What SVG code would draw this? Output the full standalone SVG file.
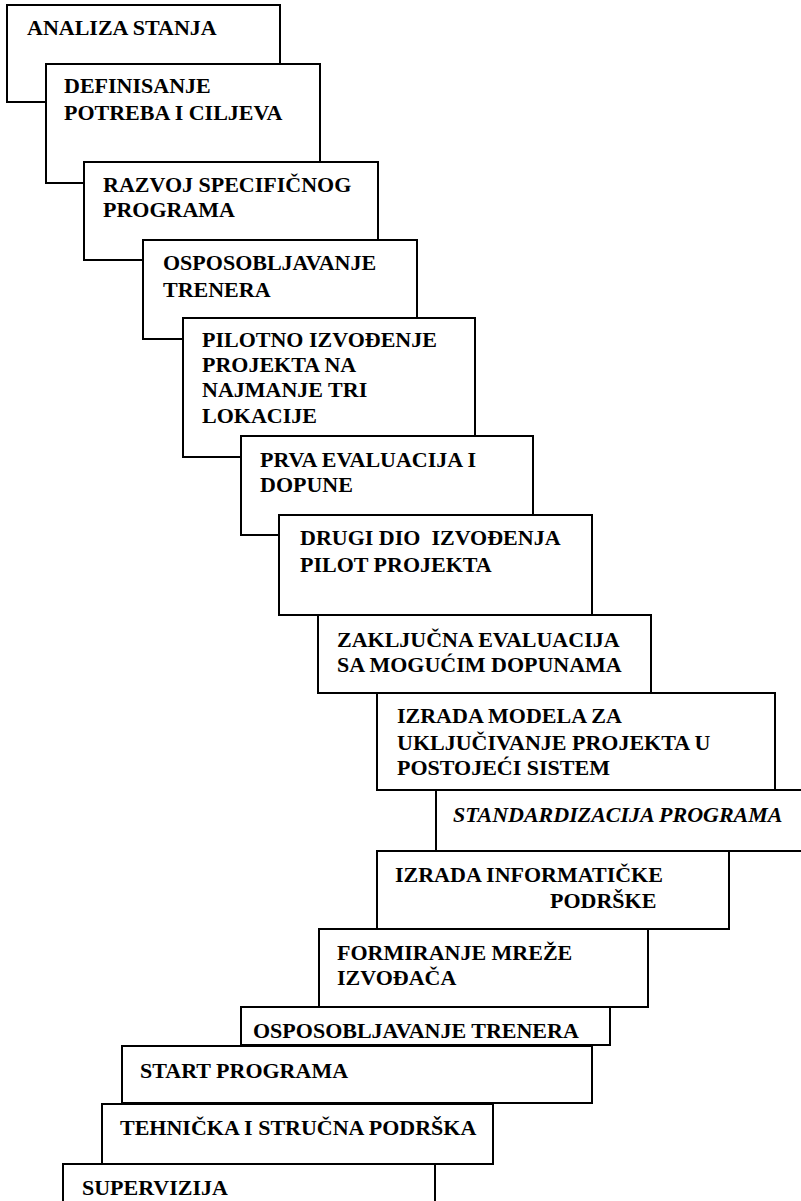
<svg xmlns="http://www.w3.org/2000/svg" width="801" height="1201" viewBox="0 0 801 1201">
  <style>
    .box { fill: #fff; stroke: #000; stroke-width: 2; }
    .lbl { font-family: "Liberation Serif", "Times New Roman", serif; font-weight: bold; font-size: 22px; fill: #000; white-space: pre; }
    .it { font-style: italic; }
  </style>
  <rect x="0" y="0" width="801" height="1201" fill="#fff"/>

  <!-- Steps drawn in order; each later box overlaps the one before it -->
  <g id="step-01">
    <rect class="box" x="7" y="5" width="273" height="97"/>
    <text class="lbl" x="27" y="35">ANALIZA STANJA</text>
  </g>
  <g id="step-02">
    <rect class="box" x="46" y="64" width="274" height="119"/>
    <text class="lbl" x="64" y="93">DEFINISANJE</text>
    <text class="lbl" x="64" y="120">POTREBA I CILJEVA</text>
  </g>
  <g id="step-03">
    <rect class="box" x="84" y="162" width="294" height="98"/>
    <text class="lbl" x="103" y="192">RAZVOJ SPECIFIČNOG</text>
    <text class="lbl" x="103" y="217">PROGRAMA</text>
  </g>
  <g id="step-04">
    <rect class="box" x="143" y="240" width="274" height="99"/>
    <text class="lbl" x="163" y="270">OSPOSOBLJAVANJE</text>
    <text class="lbl" x="163" y="297">TRENERA</text>
  </g>
  <g id="step-05">
    <rect class="box" x="183" y="318" width="292" height="139"/>
    <text class="lbl" x="202" y="347">PILOTNO IZVOĐENJE</text>
    <text class="lbl" x="202" y="372">PROJEKTA NA</text>
    <text class="lbl" x="202" y="397">NAJMANJE TRI</text>
    <text class="lbl" x="202" y="423">LOKACIJE</text>
  </g>
  <g id="step-06">
    <rect class="box" x="241" y="436" width="292" height="99"/>
    <text class="lbl" x="260" y="467">PRVA EVALUACIJA I</text>
    <text class="lbl" x="260" y="492">DOPUNE</text>
  </g>
  <g id="step-07">
    <rect class="box" x="279" y="515" width="313" height="100"/>
    <text class="lbl" x="300" y="545">DRUGI DIO  IZVOĐENJA</text>
    <text class="lbl" x="300" y="572">PILOT PROJEKTA</text>
  </g>
  <g id="step-08">
    <rect class="box" x="318" y="615" width="333" height="78"/>
    <text class="lbl" x="337" y="647">ZAKLJUČNA EVALUACIJA</text>
    <text class="lbl" x="337" y="672">SA MOGUĆIM DOPUNAMA</text>
  </g>
  <g id="step-09">
    <rect class="box" x="377" y="693" width="398" height="97"/>
    <text class="lbl" x="397" y="723">IZRADA MODELA ZA</text>
    <text class="lbl" x="397" y="750">UKLJUČIVANJE PROJEKTA U</text>
    <text class="lbl" x="397" y="775">POSTOJEĆI SISTEM</text>
  </g>
  <g id="step-10">
    <rect class="box" x="436" y="790" width="370" height="61"/>
    <text class="lbl it" x="453" y="822">STANDARDIZACIJA PROGRAMA</text>
  </g>
  <g id="step-11">
    <rect class="box" x="377" y="851" width="352" height="78"/>
    <text class="lbl" x="395" y="882">IZRADA INFORMATIČKE</text>
    <text class="lbl" x="550" y="908">PODRŠKE</text>
  </g>
  <g id="step-12">
    <rect class="box" x="319" y="929" width="329" height="78"/>
    <text class="lbl" x="337" y="960">FORMIRANJE MREŽE</text>
    <text class="lbl" x="337" y="985">IZVOĐAČA</text>
  </g>
  <g id="step-13">
    <rect class="box" x="241" y="1007" width="369" height="38"/>
    <text class="lbl" x="253" y="1038">OSPOSOBLJAVANJE TRENERA</text>
  </g>
  <g id="step-14">
    <rect class="box" x="122" y="1046" width="470" height="57"/>
    <text class="lbl" x="140" y="1078">START PROGRAMA</text>
  </g>
  <g id="step-15">
    <rect class="box" x="102" y="1104" width="391" height="60"/>
    <text class="lbl" x="120" y="1135">TEHNIČKA I STRUČNA PODRŠKA</text>
  </g>
  <g id="step-16">
    <rect class="box" x="63" y="1164" width="372" height="60"/>
    <text class="lbl" x="82" y="1195">SUPERVIZIJA</text>
  </g>

  <!-- no separate connectors: the staircase boxes touch directly -->
  <g id="connectors"></g>
</svg>
